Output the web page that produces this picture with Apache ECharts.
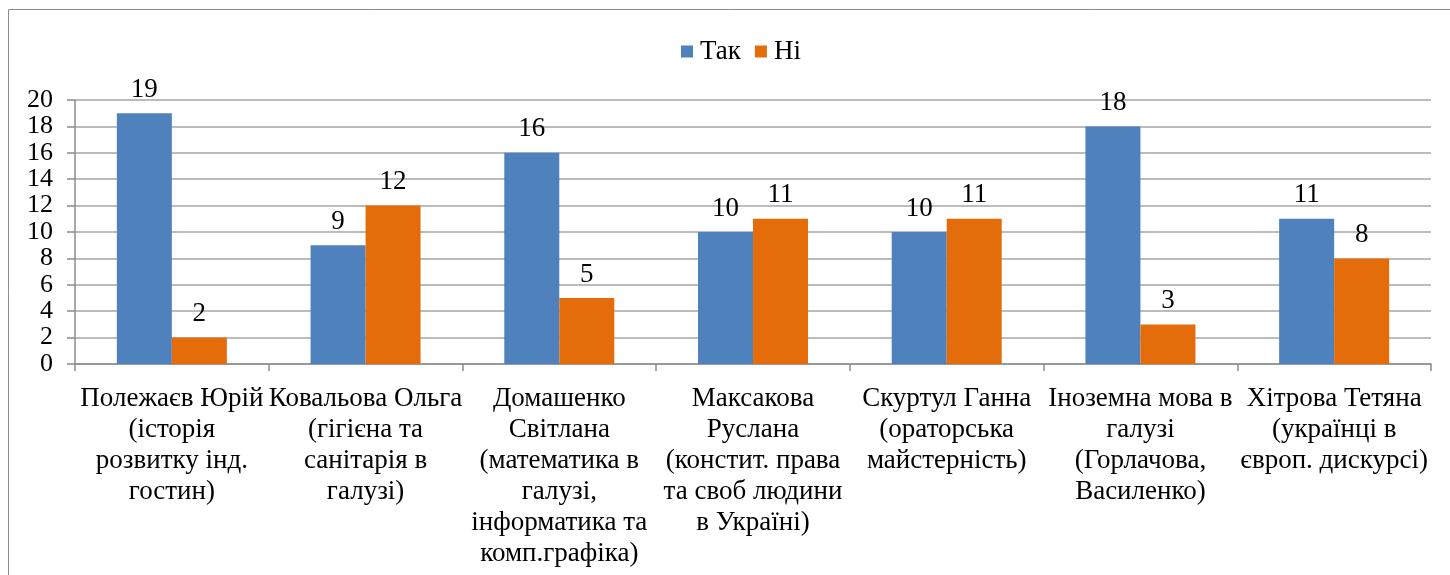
<!DOCTYPE html>
<html>
<head>
<meta charset="utf-8">
<script src="https://cdn.jsdelivr.net/npm/echarts@6/dist/echarts.min.js"></script>
<style>
html,body{margin:0;padding:0;background:#fff;}
#c{width:1450px;height:575px;}
</style>
</head>
<body>
<div id="c"></div>
<script>
const categories = [
  "Полежаєв Юрій\n(історія\nрозвитку інд.\nгостин)",
  "Ковальова Ольга\n(гігієна та\nсанітарія в\nгалузі)",
  "Домашенко\nСвітлана\n(математика в\nгалузі,\nінформатика та\nкомп.графіка)",
  "Максакова\nРуслана\n(констит. права\nта своб людини\nв Україні)",
  "Скуртул Ганна\n(ораторська\nмайстерність)",
  "Іноземна мова в\nгалузі\n(Горлачова,\nВасиленко)",
  "Хітрова Тетяна\n(українці в\nєвроп. дискурсі)"
];
const seriesNames = ["Так", "Ні"];
const yesValues = [19, 9, 16, 10, 10, 18, 11];
const noValues = [2, 12, 5, 11, 11, 3, 8];
const yTicks = [0, 2, 4, 6, 8, 10, 12, 14, 16, 18, 20];

const font = "'Liberation Serif', 'Times New Roman', serif";
const fs = 27;
const chart = echarts.init(document.getElementById('c'));
const labelCfg = {show: true, position: 'top', distance: 10, color: '#000', fontFamily: font, fontSize: fs};
chart.setOption({
  animation: false,
  textStyle: {fontFamily: font},
  graphic: [{
    type: 'rect', shape: {x: 8.5, y: 9.5, width: 1600, height: 700},
    style: {fill: 'none', stroke: '#8c8c8c', lineWidth: 1}
  }],
  legend: {
    data: seriesNames, top: 33, left: 676,
    itemWidth: 12, itemHeight: 12, itemGap: 14,
    icon: 'rect',
    textStyle: {fontFamily: font, fontSize: fs, color: '#000', padding: [0, 0, 0, 2]}
  },
  grid: {left: 75, right: 19, top: 100, bottom: 211, containLabel: false},
  xAxis: {
    type: 'category', data: categories,
    axisLine: {lineStyle: {color: '#8c8c8c', width: 1.5}},
    axisTick: {show: true, length: 7, lineStyle: {color: '#8c8c8c', width: 1.5}},
    axisLabel: {interval: 0, color: '#000', fontFamily: font, fontSize: fs, lineHeight: 31, margin: 19}
  },
  yAxis: {
    type: 'value', min: yTicks[0], max: yTicks[yTicks.length - 1], interval: 2,
    axisLine: {show: true, lineStyle: {color: '#8c8c8c', width: 1.5}},
    axisTick: {show: true, length: 8, lineStyle: {color: '#8c8c8c', width: 1.5}},
    splitLine: {lineStyle: {color: '#a6a6a6', width: 1.5}},
    axisLabel: {color: '#000', fontFamily: font, fontSize: 26, margin: 22,
                showMinLabel: true, showMaxLabel: true}
  },
  series: [
    {name: seriesNames[0], type: 'bar', data: yesValues, barWidth: 55, barGap: '0%',
     itemStyle: {color: '#4f81bd'}, label: labelCfg},
    {name: seriesNames[1], type: 'bar', data: noValues, barWidth: 55, barGap: '0%',
     itemStyle: {color: '#e46c0a'}, label: labelCfg}
  ]
});
</script>
</body>
</html>
